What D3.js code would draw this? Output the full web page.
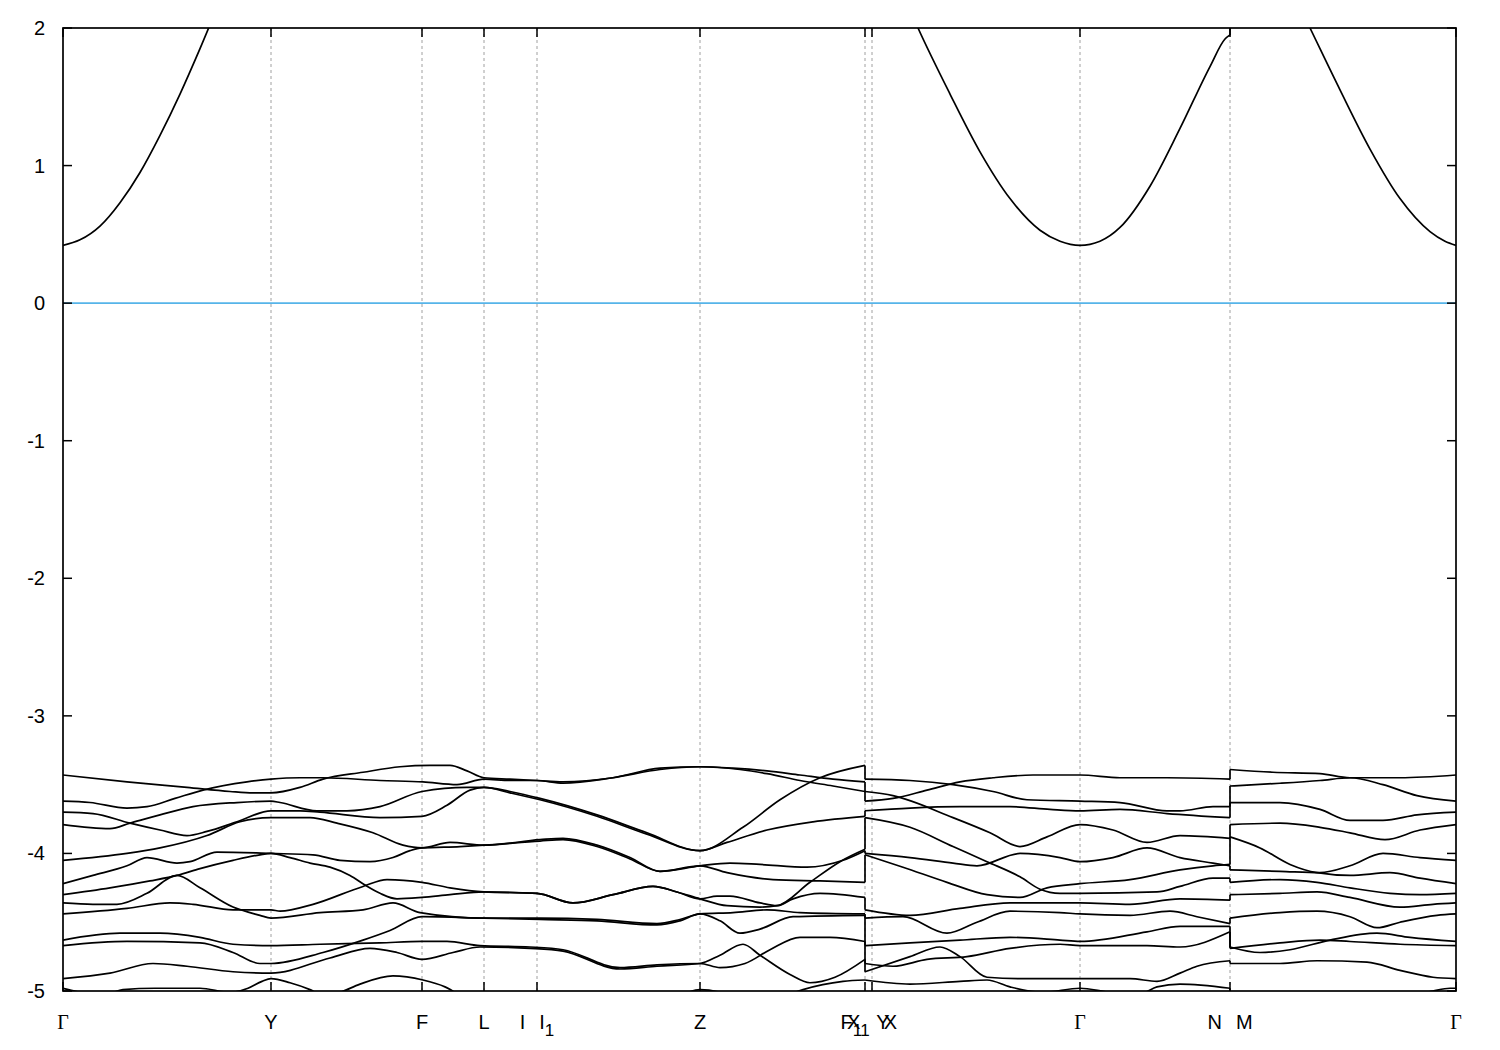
<!DOCTYPE html>
<html><head><meta charset="utf-8">
<script src="https://cdn.jsdelivr.net/npm/d3@7"></script>
<style>body{margin:0;background:#fff}</style>
</head><body><svg id="c" width="1500" height="1050"></svg>
<script>
// high-symmetry k positions (path length, arbitrary units) and labels
const kTicks = [0, 2.08, 3.59, 4.21, 4.74, 6.37, 8.02, 8.09, 10.17, 11.67, 13.93];
const kLabels = ["Γ", "Y", "F", "L", "I|I_1", "Z", "F_1|Y", "X_1|X", "Γ", "N|M", "Γ"];
const yTicks = [-5, -4, -3, -2, -1, 0, 1, 2];
const fermiLevel = 0;

// Section 1: Γ – Y – F – L – I|I1 – Z – F1   (valence bands, [k, E])
const secA_b1 = [[0,-3.43],[0.64,-3.48],[1.24,-3.52],[1.67,-3.55],[1.90,-3.56],[2.08,-3.56],[2.37,-3.52],[2.60,-3.46],[3.00,-3.41],[3.37,-3.37],[3.67,-3.36],[3.87,-3.36],[4.04,-3.40],[4.21,-3.45],[4.47,-3.46],[4.74,-3.47],[5.00,-3.48],[5.50,-3.45],[5.97,-3.38],[6.37,-3.37],[6.70,-3.38],[7.04,-3.40],[7.37,-3.43],[7.70,-3.46],[8.02,-3.48]];
const secA_b2 = [[0,-3.62],[0.27,-3.63],[0.64,-3.67],[0.84,-3.66],[1.12,-3.60],[1.40,-3.54],[1.84,-3.48],[2.08,-3.46],[2.37,-3.45],[2.60,-3.45],[3.17,-3.47],[3.60,-3.48],[3.94,-3.50],[4.21,-3.46],[4.47,-3.47],[4.74,-3.47],[5.00,-3.49],[5.50,-3.45],[5.97,-3.39],[6.37,-3.37],[6.77,-3.39],[7.04,-3.42],[7.37,-3.47],[7.70,-3.51],[8.02,-3.55]];
const secA_b3 = [[0,-3.70],[0.30,-3.71],[0.67,-3.78],[0.97,-3.83],[1.24,-3.87],[1.44,-3.84],[1.74,-3.77],[2.08,-3.69],[2.37,-3.69],[2.57,-3.70],[3.17,-3.74],[3.59,-3.73],[3.84,-3.65],[4.07,-3.54],[4.21,-3.52],[4.47,-3.55],[4.77,-3.60],[5.34,-3.72],[5.84,-3.85],[6.37,-3.98],[6.80,-3.81],[7.17,-3.61],[7.57,-3.45],[8.02,-3.36]];
const secA_b4 = [[0,-3.79],[0.47,-3.82],[0.67,-3.78],[0.97,-3.72],[1.30,-3.66],[1.74,-3.63],[2.08,-3.62],[2.17,-3.63],[2.54,-3.69],[2.84,-3.69],[3.17,-3.66],[3.59,-3.55],[4.04,-3.52],[4.21,-3.52],[4.47,-3.56],[4.77,-3.61],[5.34,-3.73],[5.84,-3.86],[6.37,-3.98],[6.64,-3.92],[7.04,-3.83],[7.50,-3.77],[8.02,-3.73]];
const secA_b5 = [[0,-4.05],[0.64,-4.00],[0.97,-3.96],[1.44,-3.87],[1.77,-3.77],[2.08,-3.74],[2.47,-3.74],[2.74,-3.78],[3.10,-3.85],[3.40,-3.94],[3.59,-3.96],[3.87,-3.92],[4.21,-3.94],[4.77,-3.90],[5.00,-3.89],[5.34,-3.94],[5.67,-4.03],[5.97,-4.13],[6.37,-4.09],[6.67,-4.07],[6.97,-4.08],[7.44,-4.10],[7.80,-4.05],[8.02,-3.98]];
const secA_b6 = [[0,-4.22],[0.30,-4.16],[0.64,-4.09],[0.84,-4.03],[1.14,-4.07],[1.27,-4.06],[1.54,-3.99],[2.08,-4.00],[2.50,-4.01],[2.77,-4.05],[3.07,-4.06],[3.30,-4.03],[3.47,-3.98],[3.59,-3.96],[3.97,-3.95],[4.21,-3.94],[4.77,-3.91],[5.00,-3.90],[5.34,-3.95],[5.67,-4.04],[5.97,-4.13],[6.37,-4.09],[6.64,-4.14],[7.10,-4.19],[7.57,-4.20],[8.02,-4.21]];
const secA_b7 = [[0,-4.30],[0.47,-4.25],[0.87,-4.20],[1.14,-4.16],[1.37,-4.11],[1.70,-4.05],[1.97,-4.01],[2.08,-4.00],[2.27,-4.03],[2.47,-4.07],[2.67,-4.10],[2.87,-4.16],[3.02,-4.23],[3.17,-4.29],[3.34,-4.33],[3.59,-4.32],[3.87,-4.30],[4.21,-4.28],[4.74,-4.29],[5.10,-4.36],[5.50,-4.30],[5.90,-4.24],[6.14,-4.28],[6.37,-4.33],[6.54,-4.31],[6.67,-4.31],[6.97,-4.36],[7.14,-4.38],[7.30,-4.33],[7.57,-4.29],[8.02,-4.32]];
const secA_b8 = [[0,-4.36],[0.30,-4.37],[0.54,-4.37],[0.84,-4.29],[1.14,-4.16],[1.37,-4.25],[1.70,-4.39],[1.97,-4.45],[2.08,-4.47],[2.57,-4.43],[3.00,-4.41],[3.30,-4.36],[3.57,-4.43],[4.21,-4.47],[4.77,-4.47],[5.34,-4.48],[5.94,-4.51],[6.17,-4.48],[6.37,-4.44],[6.70,-4.43],[7.04,-4.41],[7.37,-4.43],[8.02,-4.44]];
const secA_b9 = [[0,-4.44],[0.64,-4.40],[1.07,-4.36],[1.30,-4.37],[1.70,-4.41],[2.08,-4.41],[2.17,-4.42],[2.50,-4.37],[3.00,-4.24],[3.24,-4.19],[3.59,-4.21],[3.87,-4.25],[4.21,-4.28],[4.74,-4.29],[5.10,-4.36],[5.50,-4.30],[5.90,-4.24],[6.14,-4.28],[6.37,-4.33],[6.64,-4.38],[6.97,-4.39],[7.14,-4.38],[7.47,-4.21],[7.77,-4.06],[8.02,-3.97]];
const secA_b10 = [[0,-4.63],[0.57,-4.58],[0.97,-4.58],[1.37,-4.61],[1.70,-4.66],[2.08,-4.67],[2.57,-4.66],[3.17,-4.65],[3.59,-4.64],[3.84,-4.64],[4.17,-4.67],[4.67,-4.68],[5.00,-4.70],[5.57,-4.83],[5.94,-4.81],[6.37,-4.80],[6.57,-4.83],[6.82,-4.80],[7.07,-4.70],[7.37,-4.61],[7.67,-4.61],[8.02,-4.64]];
const secA_b11 = [[0,-4.67],[0.64,-4.64],[1.37,-4.65],[1.70,-4.72],[1.97,-4.80],[2.08,-4.80],[2.60,-4.72],[3.00,-4.63],[3.27,-4.56],[3.59,-4.46],[4.21,-4.47],[4.77,-4.48],[5.34,-4.49],[5.94,-4.52],[6.17,-4.49],[6.37,-4.44],[6.57,-4.49],[6.77,-4.58],[6.97,-4.55],[7.30,-4.46],[8.02,-4.45]];
const secA_b12 = [[0,-4.91],[0.47,-4.87],[0.90,-4.80],[1.24,-4.82],[1.70,-4.86],[2.08,-4.87],[2.67,-4.76],[3.07,-4.69],[3.34,-4.72],[3.59,-4.77],[3.90,-4.72],[4.17,-4.68],[4.67,-4.69],[5.00,-4.71],[5.57,-4.84],[5.94,-4.82],[6.37,-4.80],[6.57,-4.74],[6.80,-4.66],[6.97,-4.74],[7.27,-4.88],[7.47,-4.94],[7.72,-4.90],[8.02,-4.77]];
const secA_b13 = [[0,-4.98],[0.17,-5.01],[0.37,-5.04],[0.60,-4.99],[0.92,-4.98],[1.37,-4.98],[1.67,-5.01],[1.85,-4.98],[1.99,-4.93],[2.08,-4.91],[2.27,-4.94],[2.47,-4.99],[2.62,-5.04],[2.77,-5.01],[2.97,-4.95],[3.30,-4.89],[3.60,-4.92],[3.82,-4.97],[3.97,-5.03],[4.37,-5.14],[5.37,-5.18],[6.17,-5.03],[6.37,-4.99],[6.57,-5.01],[6.87,-5.13],[7.17,-5.05],[7.40,-4.99],[7.80,-4.93],[8.02,-4.92]];
const secA_cb = [[0,0.42],[0.17,0.46],[0.37,0.56],[0.57,0.73],[0.77,0.95],[0.97,1.22],[1.17,1.52],[1.37,1.85],[1.57,2.20],[1.97,2.9],[2.5,3.4],[4.0,3.6],[6.37,3.4],[8.02,2.9]];

// Section 2: Y – X1|X – Γ – N
const secB_b1 = [[8.02,-3.62],[8.30,-3.60],[8.64,-3.54],[8.97,-3.48],[9.30,-3.45],[9.70,-3.43],[10.17,-3.43],[10.57,-3.45],[11.04,-3.45],[11.67,-3.46]];
const secB_b2 = [[8.02,-3.46],[8.47,-3.47],[8.90,-3.50],[9.30,-3.55],[9.64,-3.61],[10.17,-3.62],[10.57,-3.63],[11.04,-3.69],[11.17,-3.69],[11.50,-3.66],[11.67,-3.66]];
const secB_b3 = [[8.02,-3.69],[8.47,-3.67],[8.97,-3.66],[9.47,-3.66],[9.87,-3.68],[10.17,-3.69],[10.57,-3.68],[11.04,-3.71],[11.67,-3.74]];
const secB_b4 = [[8.02,-3.55],[8.30,-3.58],[8.90,-3.74],[9.27,-3.85],[9.57,-3.95],[9.84,-3.88],[10.17,-3.79],[10.50,-3.83],[10.84,-3.92],[11.17,-3.87],[11.67,-3.89]];
const secB_b5 = [[8.02,-4.00],[8.47,-4.03],[8.90,-4.07],[9.14,-4.09],[9.57,-4.00],[9.97,-4.03],[10.17,-4.06],[10.50,-4.03],[10.84,-3.96],[11.17,-4.03],[11.50,-4.07],[11.67,-4.09]];
const secB_b6 = [[8.02,-4.01],[8.40,-4.10],[8.84,-4.21],[9.24,-4.30],[9.57,-4.32],[9.84,-4.25],[10.17,-4.22],[10.67,-4.19],[11.17,-4.12],[11.50,-4.09],[11.67,-4.08]];
const secB_b7 = [[8.02,-3.74],[8.47,-3.81],[8.90,-3.95],[9.24,-4.06],[9.57,-4.17],[9.77,-4.26],[9.97,-4.29],[10.17,-4.29],[10.94,-4.28],[11.17,-4.24],[11.50,-4.18],[11.67,-4.18]];
const secB_b8 = [[8.02,-4.41],[8.47,-4.45],[8.97,-4.40],[9.47,-4.36],[10.17,-4.36],[10.67,-4.37],[11.17,-4.33],[11.67,-4.34]];
const secB_b9 = [[8.02,-4.47],[8.40,-4.46],[8.84,-4.58],[9.14,-4.50],[9.47,-4.42],[9.97,-4.43],[10.17,-4.44],[10.67,-4.45],[11.07,-4.42],[11.34,-4.46],[11.67,-4.51]];
const secB_b10 = [[8.02,-4.67],[8.47,-4.65],[8.97,-4.63],[9.47,-4.61],[9.97,-4.63],[10.17,-4.64],[10.84,-4.57],[11.17,-4.53],[11.67,-4.53]];
const secB_b11 = [[8.02,-4.80],[8.30,-4.82],[8.64,-4.77],[9.04,-4.75],[9.47,-4.69],[9.97,-4.66],[10.17,-4.67],[10.84,-4.67],[11.17,-4.68],[11.67,-4.57]];
const secB_b12 = [[8.02,-4.86],[8.47,-4.75],[8.77,-4.68],[8.97,-4.75],[9.24,-4.90],[9.57,-4.91],[10.17,-4.91],[10.67,-4.91],[10.94,-4.93],[11.17,-4.87],[11.34,-4.82],[11.67,-4.78]];
const secB_b13 = [[8.02,-4.92],[8.47,-4.95],[8.97,-4.93],[9.24,-4.92],[9.47,-4.97],[9.80,-5.01],[10.17,-4.98],[10.47,-5.01],[10.77,-5.02],[10.94,-4.97],[11.17,-4.95],[11.67,-4.98]];
const secB_cb = [[8.02,2.9],[8.37,2.3],[8.55,2.0],[8.87,1.52],[9.17,1.10],[9.47,0.76],[9.77,0.53],[9.97,0.45],[10.17,0.42],[10.37,0.45],[10.57,0.55],[10.87,0.85],[11.17,1.27],[11.47,1.72],[11.62,1.92],[11.67,1.95]];

// Section 3: M – Γ
const secC_b1 = [[11.67,-3.39],[12.10,-3.41],[12.57,-3.42],[12.87,-3.45],[13.37,-3.45],[13.93,-3.43]];
const secC_b2 = [[11.67,-3.51],[12.17,-3.49],[12.57,-3.47],[12.87,-3.45],[13.20,-3.50],[13.54,-3.58],[13.93,-3.62]];
const secC_b3 = [[11.67,-3.63],[12.17,-3.63],[12.57,-3.68],[12.87,-3.76],[13.20,-3.76],[13.54,-3.72],[13.93,-3.70]];
const secC_b4 = [[11.67,-3.79],[12.17,-3.78],[12.57,-3.81],[12.87,-3.85],[13.22,-3.90],[13.57,-3.83],[13.93,-3.79]];
const secC_b5 = [[11.67,-3.88],[11.97,-3.96],[12.27,-4.08],[12.54,-4.14],[12.87,-4.16],[13.27,-4.14],[13.57,-4.18],[13.93,-4.22]];
const secC_b6 = [[11.67,-4.12],[12.17,-4.13],[12.57,-4.14],[12.87,-4.09],[13.20,-4.00],[13.57,-4.03],[13.93,-4.05]];
const secC_b7 = [[11.67,-4.21],[12.17,-4.19],[12.54,-4.21],[12.87,-4.25],[13.27,-4.29],[13.57,-4.30],[13.93,-4.29]];
const secC_b8 = [[11.67,-4.30],[12.17,-4.29],[12.54,-4.28],[12.87,-4.32],[13.37,-4.39],[13.70,-4.37],[13.93,-4.36]];
const secC_b9 = [[11.67,-4.47],[12.17,-4.43],[12.54,-4.42],[12.87,-4.46],[13.14,-4.54],[13.37,-4.50],[13.74,-4.45],[13.93,-4.44]];
const secC_b10 = [[11.67,-4.68],[11.97,-4.72],[12.27,-4.70],[12.67,-4.63],[13.14,-4.58],[13.47,-4.61],[13.93,-4.64]];
const secC_b11 = [[11.67,-4.69],[12.17,-4.65],[12.57,-4.63],[12.87,-4.64],[13.37,-4.66],[13.93,-4.67]];
const secC_b12 = [[11.67,-4.80],[12.17,-4.80],[12.54,-4.78],[13.04,-4.79],[13.37,-4.85],[13.70,-4.90],[13.93,-4.91]];
const secC_b13 = [[11.67,-5.10],[12.37,-5.14],[13.37,-5.06],[13.70,-5.00],[13.87,-4.98],[13.93,-4.98]];
const secC_cb = [[11.67,2.9],[12.27,2.3],[12.47,2.0],[12.77,1.55],[13.07,1.12],[13.37,0.76],[13.67,0.52],[13.82,0.45],[13.93,0.42]];

const sections = [
  [secA_b1,secA_b2,secA_b3,secA_b4,secA_b5,secA_b6,secA_b7,secA_b8,secA_b9,secA_b10,secA_b11,secA_b12,secA_b13,secA_cb],
  [secB_b1,secB_b2,secB_b3,secB_b4,secB_b5,secB_b6,secB_b7,secB_b8,secB_b9,secB_b10,secB_b11,secB_b12,secB_b13,secB_cb],
  [secC_b1,secC_b2,secC_b3,secC_b4,secC_b5,secC_b6,secC_b7,secC_b8,secC_b9,secC_b10,secC_b11,secC_b12,secC_b13,secC_cb]
];

const W = 1500, H = 1050;
const m = {left: 63, top: 28, right: 44, bottom: 59};
const svg = d3.select("#c");
svg.append("rect").attr("width", W).attr("height", H).attr("fill", "#fff");
const x = d3.scaleLinear().domain([kTicks[0], kTicks[kTicks.length-1]]).range([m.left, W - m.right]);
const y = d3.scaleLinear().domain([-5, 2]).range([H - m.bottom, m.top]);

svg.append("defs").append("clipPath").attr("id", "clip")
  .append("rect").attr("x", x.range()[0]).attr("y", y.range()[1])
  .attr("width", x.range()[1] - x.range()[0]).attr("height", y.range()[0] - y.range()[1]);

// dashed vertical lines at high-symmetry points
svg.append("g").selectAll("line").data(kTicks.slice(1, -1)).join("line")
  .attr("x1", d => x(d)).attr("x2", d => x(d))
  .attr("y1", y(-5)).attr("y2", y(2))
  .attr("stroke", "#a0a0a0").attr("stroke-width", 1).attr("stroke-dasharray", "3,3");

// Fermi level
svg.append("line").attr("x1", x.range()[0]).attr("x2", x.range()[1])
  .attr("y1", y(fermiLevel)).attr("y2", y(fermiLevel))
  .attr("stroke", "#56b4e9").attr("stroke-width", 1.6);

const plot = svg.append("g").attr("clip-path", "url(#clip)");
const line = d3.line().x(d => x(d[0])).y(d => y(d[1])).curve(d3.curveMonotoneX);
sections.forEach(sec => {
  sec.forEach(b => {
    plot.append("path").attr("d", line(b)).attr("fill", "none")
      .attr("stroke", "#000").attr("stroke-width", 1.7);
  });
});
// connectors at discontinuities (band index = energy order)
for (let s = 0; s < sections.length - 1; s++) {
  const ends = sections[s].map(b => b[b.length-1]).sort((a, b) => a[1] - b[1]);
  const starts = sections[s+1].map(b => b[0]).sort((a, b) => a[1] - b[1]);
  ends.forEach((e, i) => {
    plot.append("line").attr("x1", x(e[0])).attr("x2", x(starts[i][0]))
      .attr("y1", y(e[1])).attr("y2", y(starts[i][1]))
      .attr("stroke", "#000").attr("stroke-width", 1.7);
  });
}

// frame
svg.append("rect").attr("x", x.range()[0]).attr("y", y.range()[1])
  .attr("width", x.range()[1] - x.range()[0]).attr("height", y.range()[0] - y.range()[1])
  .attr("fill", "none").attr("stroke", "#000").attr("stroke-width", 1.7);

const tl = 9;
const tg = svg.append("g").attr("stroke", "#000").attr("stroke-width", 1.5);
yTicks.forEach(v => {
  tg.append("line").attr("x1", x.range()[0]).attr("x2", x.range()[0] + tl).attr("y1", y(v)).attr("y2", y(v));
  tg.append("line").attr("x1", x.range()[1]).attr("x2", x.range()[1] - tl).attr("y1", y(v)).attr("y2", y(v));
});
kTicks.forEach(k => {
  tg.append("line").attr("x1", x(k)).attr("x2", x(k)).attr("y1", y(-5)).attr("y2", y(-5) - tl);
  tg.append("line").attr("x1", x(k)).attr("x2", x(k)).attr("y1", y(2)).attr("y2", y(2) + tl);
});

const font = "'Liberation Sans', Arial, sans-serif";
svg.append("g").selectAll("text").data(yTicks).join("text")
  .attr("x", x.range()[0] - 18).attr("y", d => y(d)).attr("dy", "0.35em")
  .attr("text-anchor", "end").attr("font-family", font).attr("font-size", 20)
  .text(d => String(d));

// x labels: "|" separates the two names at a discontinuity, "_1" is a subscript
kLabels.forEach((lab, i) => {
  const t = svg.append("text").attr("x", x(kTicks[i])).attr("y", y(-5) + 38)
    .attr("text-anchor", "middle").attr("font-family", font).attr("font-size", 20);
  let pendingDy = 0;
  lab.split("|").forEach((part, j) => {
    const [main, sub] = part.split("_");
    const ts = t.append("tspan").attr("dx", j > 0 ? 14 : 0).attr("dy", pendingDy).text(main);
    pendingDy = 0;
    if (main === "Γ") ts.attr("font-family", "'Liberation Serif', 'DejaVu Serif', serif");
    if (sub) {
      t.append("tspan").attr("dy", 7).attr("font-size", 17).text(sub);
      pendingDy = -7;
    }
  });
});
</script></body></html>
